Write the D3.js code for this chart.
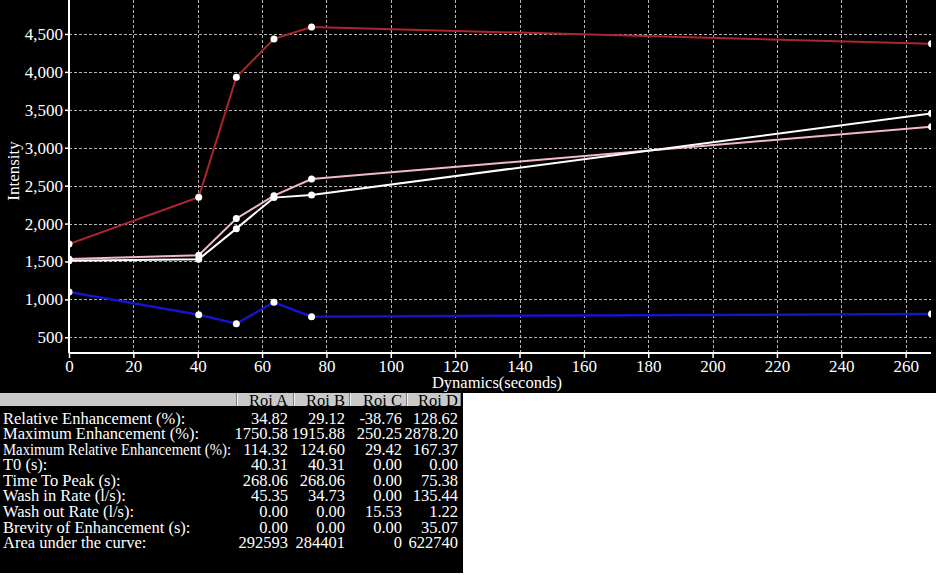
<!DOCTYPE html>
<html><head><meta charset="utf-8">
<script src="https://cdn.jsdelivr.net/npm/d3@7"></script>
<style>html,body{margin:0;padding:0;background:#fff;}svg{display:block;}</style>
</head><body>
<script>
const times = [0, 40.31, 52.0, 63.69, 75.38, 268.06];
const roiA = [1533, 1582, 2065, 2368, 2588, 3278];   // pink
const roiB = [1508, 1530, 1933, 2342, 2377, 3452];   // white
const roiC = [1098, 798, 679, 962, 772, 807];        // blue
const roiD = [1731, 2347, 3930, 4435, 4592, 4370];   // dark red
const seriesNames = ["Roi A", "Roi B", "Roi C", "Roi D"];
const seriesColors = ["#f2b9c2", "#ffffff", "#1414c8", "#ad252e"];
const xTicks = [0,20,40,60,80,100,120,140,160,180,200,220,240,260];
const yTicks = [500,1000,1500,2000,2500,3000,3500,4000,4500];
const rowLabels = ["Relative Enhancement (%):","Maximum Enhancement (%):","Maximum Relative Enhancement (%):","T0 (s):","Time To Peak (s):","Wash in Rate (l/s):","Wash out Rate (l/s):","Brevity of Enhancement (s):","Area under the curve:"];
const colA = ["34.82","1750.58","114.32","40.31","268.06","45.35","0.00","0.00","292593"];
const colB = ["29.12","1915.88","124.60","40.31","268.06","34.73","0.00","0.00","284401"];
const colC = ["-38.76","250.25","29.42","0.00","0.00","0.00","15.53","0.00","0"];
const colD = ["128.62","2878.20","167.37","0.00","75.38","135.44","1.22","35.07","622740"];

const W = 936, H = 575;
const font = "'Liberation Serif','Times New Roman',serif";
const svg = d3.select("body").append("svg").attr("width", W).attr("height", H);
svg.append("rect").attr("width", W).attr("height", H).attr("fill", "#fff");
svg.append("rect").attr("width", W).attr("height", 393).attr("fill", "#000");

const x = d3.scaleLinear().domain([0, 268.06]).range([69, 931.6]);
const y = d3.scaleLinear().domain([293, 4948]).range([353, 0]);

// grid
const grid = svg.append("g").attr("stroke", "#b4b4b4").attr("stroke-width", 1).attr("stroke-dasharray", "3,2");
grid.selectAll("line.v").data(xTicks.filter(d => d > 0)).join("line")
  .attr("x1", d => Math.round(x(d)) + 0.5).attr("x2", d => Math.round(x(d)) + 0.5)
  .attr("y1", 0).attr("y2", 353);
grid.selectAll("line.h").data(yTicks).join("line")
  .attr("x1", 69).attr("x2", 931)
  .attr("y1", d => Math.round(y(d)) + 0.5).attr("y2", d => Math.round(y(d)) + 0.5);

// axes
const xAxis = svg.append("g").attr("transform", "translate(0,353)")
  .call(d3.axisBottom(x).tickValues(xTicks).tickSize(5).tickSizeOuter(0).tickFormat(d3.format("d")));
const yAxis = svg.append("g").attr("transform", "translate(69,0)")
  .call(d3.axisLeft(y).tickValues(yTicks).tickSize(4).tickSizeOuter(0).tickFormat(d3.format(",")));
[xAxis, yAxis].forEach(a => {
  a.select(".domain").attr("stroke", "#fff").attr("stroke-width", 2);
  a.selectAll(".tick line").attr("stroke", "#fff").attr("stroke-width", 1.5);
  a.selectAll(".tick text").attr("fill", "#fff").attr("font-family", font).attr("font-size", 17);
});
xAxis.select(".domain").attr("d", "M69,0H931");
yAxis.select(".domain").attr("d", "M0,0V353");
xAxis.selectAll(".tick text").attr("dy", "0.71em").attr("y", 7);
yAxis.selectAll(".tick text").attr("x", -6);

svg.append("text").attr("x", 497).attr("y", 388).attr("text-anchor", "middle")
  .attr("fill", "#fff").attr("font-family", font).attr("font-size", 16.5).text("Dynamics(seconds)");
svg.append("text").attr("transform", "translate(19,171) rotate(-90)").attr("text-anchor", "middle")
  .attr("fill", "#fff").attr("font-family", font).attr("font-size", 17).text("Intensity");

// lines
svg.append("clipPath").attr("id", "clip").append("rect").attr("x", 69).attr("y", 0).attr("width", 862).attr("height", 353);
const plot = svg.append("g").attr("clip-path", "url(#clip)");
const seriesVals = [roiA, roiB, roiC, roiD];
const order = [2, 3, 0, 1];
const line = d3.line().x((d, i) => x(times[i])).y(d => y(d));
order.forEach(k => {
  plot.append("path").datum(seriesVals[k]).attr("d", line)
    .attr("fill", "none").attr("stroke", seriesColors[k]).attr("stroke-width", k === 2 ? 2.5 : 2);
});
order.forEach(k => {
  plot.selectAll(null).data(seriesVals[k]).join("circle")
    .attr("cx", (d, i) => x(times[i])).attr("cy", d => y(d)).attr("r", 3.5).attr("fill", "#fff");
});

// table
const fs = 16.5;
const tbl = svg.append("g");
tbl.append("rect").attr("x", 0).attr("y", 393).attr("width", 463).attr("height", 180).attr("fill", "#000");
const colEdges = [0, 237, 294, 350, 407, 461];
tbl.append("rect").attr("x", 0).attr("y", 393).attr("width", 461).attr("height", 13).attr("fill", "#c9c9c9");
tbl.selectAll("line.sep").data(colEdges.slice(1)).join("line")
  .attr("x1", d => d - 0.5).attr("x2", d => d - 0.5).attr("y1", 393).attr("y2", 406)
  .attr("stroke", "#808080").attr("stroke-width", 1);
tbl.selectAll("line.hl").data(colEdges.slice(1, 5)).join("line")
  .attr("x1", d => d + 0.5).attr("x2", d => d + 0.5).attr("y1", 393).attr("y2", 406)
  .attr("stroke", "#f0f0f0").attr("stroke-width", 1);
const colRights = [288, 345, 402, 458];
tbl.selectAll("text.hdr").data(seriesNames).join("text")
  .attr("x", (d, i) => colRights[i]).attr("y", 405.5).attr("text-anchor", "end")
  .attr("fill", "#000").attr("font-family", font).attr("font-size", fs).text(d => d);
const rowY = i => 423.5 + i * 15.58;
tbl.selectAll("text.lbl").data(rowLabels).join("text")
  .attr("x", 3).attr("y", (d, i) => rowY(i))
  .attr("fill", "#fff").attr("font-family", font).attr("font-size", fs).text(d => d)
  .each(function() {
    const w = this.getComputedTextLength();
    if (w > 228) d3.select(this).attr("textLength", 228).attr("lengthAdjust", "spacingAndGlyphs");
  });
[colA, colB, colC, colD].forEach((col, c) => {
  tbl.selectAll(null).data(col).join("text")
    .attr("x", colRights[c]).attr("y", (d, i) => rowY(i)).attr("text-anchor", "end")
    .attr("fill", "#fff").attr("font-family", font).attr("font-size", fs).text(d => d);
});
</script>
</body></html>
